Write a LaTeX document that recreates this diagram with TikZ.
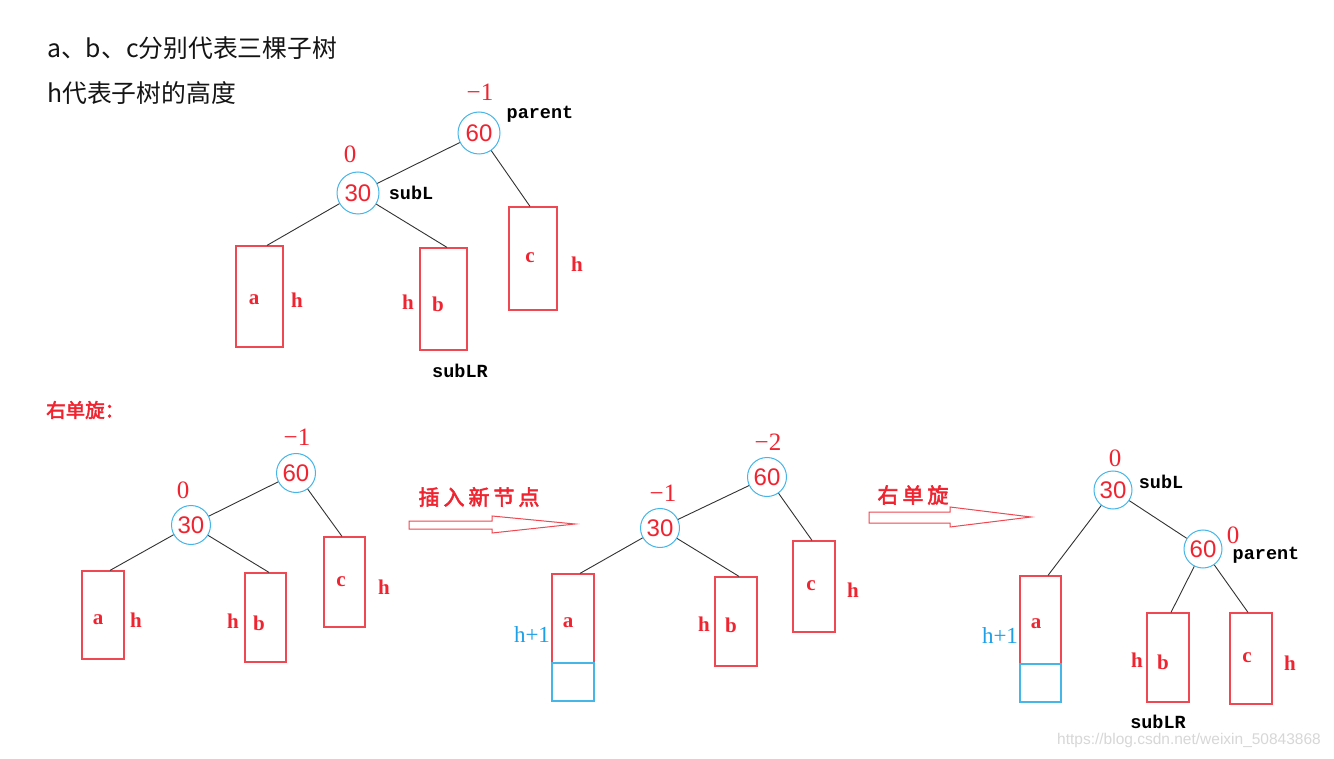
\documentclass[tikz,border=0pt]{standalone}
\usepackage{fontspec}
\setmainfont{Liberation Serif}
\newfontfamily\cjk{Noto Sans CJK SC}
\newfontfamily\cjkb[FakeBold=2.5]{Noto Sans CJK SC}
\newfontfamily\arialf{Liberation Sans}
\newfontfamily\monof{Liberation Mono}
\definecolor{tred}{RGB}{240,36,48}
\definecolor{bred}{RGB}{238,72,82}
\definecolor{cblue}{RGB}{70,182,232}
\definecolor{hblue}{RGB}{30,160,230}
\definecolor{edgec}{RGB}{50,50,50}
\definecolor{topt}{RGB}{20,20,20}
\definecolor{wm}{RGB}{215,215,215}
\begin{document}
\begin{tikzpicture}[x=1pt,y=-1pt,
  circ/.style={circle, draw=cblue, line width=1pt, minimum size=40pt, inner sep=0pt, text=tred, font=\arialf\fontsize{24}{24}\selectfont},
  boxr/.style={draw=bred, line width=1.2pt, inner sep=0pt},
  boxb/.style={draw=cblue, line width=1.2pt, inner sep=0pt},
  conn/.style={draw=edgec, line width=0.9pt},
  lab/.style={text=tred, font=\bfseries\fontsize{21}{21}\selectfont, inner sep=0pt},
  bfac/.style={text=tred, font=\fontsize{25}{25}\selectfont, inner sep=0pt},
  tag/.style={text=black, font=\monof\bfseries\fontsize{18.5}{18.5}\selectfont, inner sep=0pt},
  hone/.style={text=hblue, font=\fontsize{23}{23}\selectfont, inner sep=0pt},
  cjkred/.style={text=tred, font=\cjkb\fontsize{21}{21}\selectfont, inner sep=0pt},
  hollow/.style={draw=bred, line width=1pt, fill=white}
]
\useasboundingbox (0,0) rectangle (1334,759);
\fill[white] (0,0) rectangle (1334,759);

% ---------- header text ----------
\node[anchor=west, inner sep=0pt, text=topt, font=\cjk\fontsize{24.8}{24.8}\selectfont] (t1) at (47,48) {a、b、c分别代表三棵子树};
\node[anchor=west, inner sep=0pt, text=topt, font=\cjk\fontsize{24.8}{24.8}\selectfont] (t2) at (47,93) {h代表子树的高度};

% ---------- top tree ----------
\node[circ, minimum size=42pt] (A60) at (479,133) {60};
\node[circ, minimum size=42pt] (A30) at (358,193) {30};
\node[boxr, minimum width=47pt, minimum height=101pt] (Aa) at (259.5,296.5) {};
\node[boxr, minimum width=47pt, minimum height=102pt] (Ab) at (443.5,299) {};
\node[boxr, minimum width=48pt, minimum height=103pt] (Ac) at (533,258.5) {};
\draw[conn] (A60) -- (A30);
\draw[conn] (A60) -- ([xshift=-3pt]Ac.north);
\draw[conn] (A30) -- ([xshift=7.5pt]Aa.north);
\draw[conn] (A30) -- ([xshift=3.5pt]Ab.north);
\node[bfac] (Am1) at (480,92) {−1};
\node[bfac] (Az) at (350,154) {0};
\node[tag] (Apar) at (540,114) {parent};
\node[tag] (Asubl) at (411,193) {subL};
\node[tag] (Asublr) at (460,371) {subLR};
\node[lab] (Ala) at (254,300) {a};
\node[lab] (Alah) at (297,300) {h};
\node[lab] (Alb) at (438,304) {b};
\node[lab] (Albh) at (408,302) {h};
\node[lab] (Alc) at (530,258) {c};
\node[lab] (Alch) at (577,264) {h};

% ---------- section title ----------
\node[anchor=west, text=tred, font=\cjkb\fontsize{19.5}{19.5}\selectfont, inner sep=0pt] (sec) at (46,410) {右单旋：};

% ---------- tree 1 ----------
\node[circ, minimum size=39pt] (B60) at (296,473) {60};
\node[circ, minimum size=39pt] (B30) at (191,525) {30};
\node[boxr, minimum width=42pt, minimum height=88pt] (Ba) at (103,615) {};
\node[boxr, minimum width=41pt, minimum height=89pt] (Bb) at (265.5,617.5) {};
\node[boxr, minimum width=41pt, minimum height=90pt] (Bc) at (344.5,582) {};
\draw[conn] (B60) -- (B30);
\draw[conn] (B60) -- ([xshift=-2.5pt]Bc.north);
\draw[conn] (B30) -- ([xshift=7pt]Ba.north);
\draw[conn] (B30) -- ([xshift=3.5pt]Bb.north);
\node[bfac] (Bm1) at (297,437) {−1};
\node[bfac] (Bz) at (183,490) {0};
\node[lab] (Bla) at (98,620) {a};
\node[lab] (Blah) at (136,620) {h};
\node[lab] (Blb) at (259,623) {b};
\node[lab] (Blbh) at (233,621) {h};
\node[lab] (Blc) at (341,582) {c};
\node[lab] (Blch) at (384,587) {h};

% ---------- arrow 1 ----------
\draw[hollow] (409,521) -- (492,521) -- (492,516) -- (575,524) -- (492,533) -- (492,529) -- (409,529) -- cycle;
\node[cjkred] (ins) at (479,497) {插\hspace{4pt}入\hspace{4pt}新\hspace{4pt}节\hspace{4pt}点};

% ---------- tree 2 ----------
\node[circ, minimum size=39pt] (C60) at (767,477) {60};
\node[circ, minimum size=39pt] (C30) at (660,528) {30};
\node[boxr, minimum width=42pt, minimum height=89pt] (Ca) at (573,618.5) {};
\node[boxb, minimum width=42pt, minimum height=38pt] (Cnew) at (573,682) {};
\node[boxr, minimum width=42pt, minimum height=89pt] (Cb) at (736,621.5) {};
\node[boxr, minimum width=42pt, minimum height=91pt] (Cc) at (814,586.5) {};
\draw[conn] (C60) -- (C30);
\draw[conn] (C60) -- ([xshift=-2pt]Cc.north);
\draw[conn] (C30) -- ([xshift=7pt]Ca.north);
\draw[conn] (C30) -- ([xshift=3pt]Cb.north);
\node[bfac] (Cm2) at (768,442) {−2};
\node[bfac] (Cm1) at (663,493) {−1};
\node[lab] (Cla) at (568,623) {a};
\node[hone] (Clah) at (532,635) {h+1};
\node[lab] (Clb) at (731,625) {b};
\node[lab] (Clbh) at (704,624) {h};
\node[lab] (Clc) at (811,586) {c};
\node[lab] (Clch) at (853,590) {h};

% ---------- arrow 2 ----------
\draw[hollow] (869,512) -- (950,512) -- (950,507) -- (1031,517) -- (950,527) -- (950,523) -- (869,523) -- cycle;
\node[cjkred] (rot) at (913,495) {右\hspace{4pt}单\hspace{4pt}旋};

% ---------- tree 3 ----------
\node[circ, minimum size=38pt] (D30) at (1113,490) {30};
\node[circ, minimum size=38pt] (D60) at (1203,549) {60};
\node[boxr, minimum width=41pt, minimum height=88pt] (Da) at (1040.5,620) {};
\node[boxb, minimum width=41pt, minimum height=38pt] (Dnew) at (1040.5,683) {};
\node[boxr, minimum width=42pt, minimum height=89pt] (Db) at (1168,657.5) {};
\node[boxr, minimum width=42pt, minimum height=91pt] (Dc) at (1251,658.5) {};
\draw[conn] (D30) -- ([xshift=7.5pt]Da.north);
\draw[conn] (D30) -- (D60);
\draw[conn] (D60) -- ([xshift=3pt]Db.north);
\draw[conn] (D60) -- ([xshift=-3pt]Dc.north);
\node[bfac] (Dz1) at (1115,458) {0};
\node[bfac] (Dz2) at (1233,535) {0};
\node[tag] (Dsubl) at (1161,482) {subL};
\node[tag] (Dpar) at (1266,555) {parent};
\node[tag] (Dsublr) at (1158,722) {subLR};
\node[lab] (Dla) at (1036,624) {a};
\node[hone] (Dlah) at (1000,636) {h+1};
\node[lab] (Dlb) at (1163,662) {b};
\node[lab] (Dlbh) at (1137,660) {h};
\node[lab] (Dlc) at (1247,658) {c};
\node[lab] (Dlch) at (1290,663) {h};

% ---------- watermark ----------
\node[text=wm, font=\arialf\fontsize{15.5}{15.5}\selectfont, inner sep=0pt] (wmk) at (1189,740) {https://blog.csdn.net/weixin\_50843868};
\end{tikzpicture}
\end{document}
